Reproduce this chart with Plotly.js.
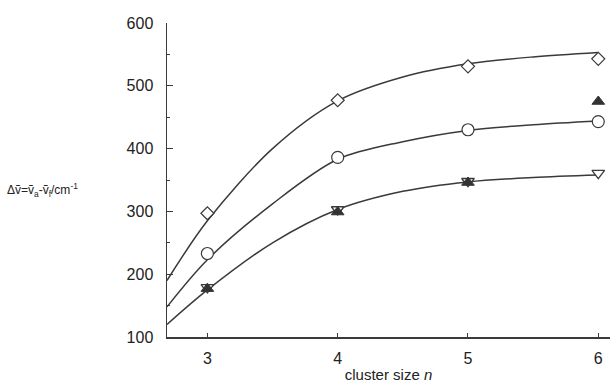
<!DOCTYPE html>
<html>
<head>
<meta charset="utf-8">
<script src="https://cdn.plot.ly/plotly-3.0.1.min.js"></script>
<style>html,body{margin:0;padding:0;background:#fff;}#chart{width:612px;height:387px;}</style>
</head>
<body>
<div id="chart"></div>
<script>
// measured points
const clusterSizes = [3, 4, 5, 6];
const diamondVals = [297, 477, 531, 543];
const circleVals = [233, 386, 430, 443];
const triUpVals = [177, 299, 346, 475];
const triDownVals = [179, 303, 348, 361];

// fitted curves
const topCurveX = [2.69, 3, 3.5, 4, 4.5, 5, 5.5, 6];
const topCurveY = [190, 285, 400, 476, 514, 535, 546, 553];
const midCurveX = [2.69, 3, 3.5, 4, 4.5, 5, 5.5, 6];
const midCurveY = [148, 223, 312, 383, 411, 429, 438, 444];
const lowCurveX = [2.69, 3, 3.5, 4, 4.5, 5, 5.5, 6];
const lowCurveY = [120, 175, 250, 303, 332, 347, 354, 358];

const yTicks = [100, 200, 300, 400, 500, 600];

const lineColor = '#3a3a3a';
const curve = (x, y) => ({x: x, y: y, mode: 'lines', type: 'scatter',
  line: {color: lineColor, width: 1.5, shape: 'spline', smoothing: 0.9}, hoverinfo: 'skip'});

const data = [
  curve(topCurveX, topCurveY),
  curve(midCurveX, midCurveY),
  curve(lowCurveX, lowCurveY),
  {x: clusterSizes, y: diamondVals, mode: 'markers', type: 'scatter',
   marker: {symbol: 'diamond', size: 10, color: '#fff', line: {color: lineColor, width: 1.2}}},
  {x: clusterSizes, y: circleVals, mode: 'markers', type: 'scatter',
   marker: {symbol: 'circle', size: 12, color: '#fff', line: {color: lineColor, width: 1.2}}},
  {x: clusterSizes, y: triDownVals, mode: 'markers', type: 'scatter',
   marker: {symbol: 'triangle-down', size: 11, color: '#fff', line: {color: lineColor, width: 1.3}}},
  {x: clusterSizes, y: triUpVals, mode: 'markers', type: 'scatter',
   marker: {symbol: 'triangle-up', size: 11, color: '#333', line: {color: '#333', width: 1}}}
];

const layout = {
  width: 612, height: 387,
  margin: {l: 167, r: 2, t: 23, b: 50},
  paper_bgcolor: '#fff', plot_bgcolor: '#fff',
  showlegend: false,
  font: {family: 'Liberation Sans, Arial, sans-serif', color: '#222', size: 15},
  xaxis: {
    range: [2.69, 6.09], tickvals: clusterSizes, ticktext: clusterSizes.map(String),
    showline: true, linecolor: lineColor, linewidth: 1.5,
    ticks: 'inside', ticklen: 4, tickcolor: lineColor, tickwidth: 1,
    showgrid: false, zeroline: false, ticklabelstandoff: 6,
    tickfont: {size: 16, color: '#222'},
    title: {text: 'cluster size <i>n</i>', font: {size: 15, color: '#222'}, standoff: 4}
  },
  yaxis: {
    range: [100, 600], tickvals: yTicks, ticktext: yTicks.map(String),
    showline: true, linecolor: lineColor, linewidth: 1.5,
    ticks: 'inside', ticklen: 6, tickcolor: lineColor, tickwidth: 1,
    minor: {dtick: 50, ticks: 'inside', ticklen: 3, tickcolor: lineColor, showgrid: false},
    showgrid: false, zeroline: false, ticklabelstandoff: 9,
    tickfont: {size: 16, color: '#222'}
  },
  annotations: [{
    xref: 'paper', yref: 'paper', x: -0.365, y: 0.468, xanchor: 'left', yanchor: 'middle',
    showarrow: false, font: {size: 12, color: '#222'},
    text: 'Δṽ=ṽ<sub>a</sub>-ṽ<sub>f</sub>/cm<sup>-1</sup>'
  }]
};

Plotly.newPlot('chart', data, layout, {displayModeBar: false, staticPlot: true});
</script>
</body>
</html>
